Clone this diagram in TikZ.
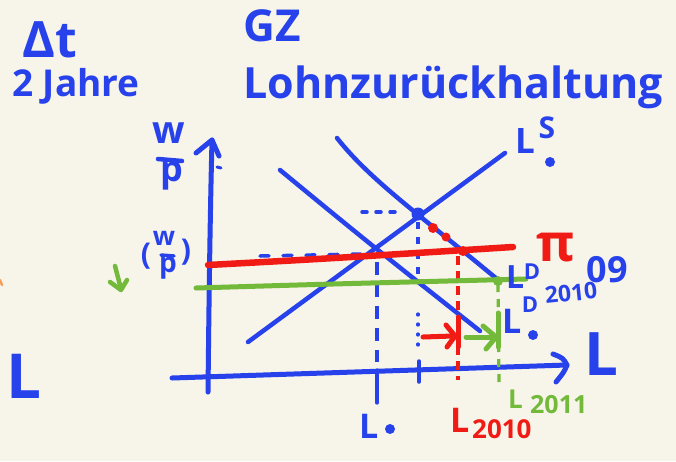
\documentclass[tikz,border=0pt]{standalone}
\usepackage{fontspec}
\setmainfont{Open Sans}
\definecolor{bgc}{HTML}{F7F4EA}
\definecolor{penblue}{HTML}{2742EA}
\definecolor{penred}{HTML}{F01B14}
\definecolor{pengreen}{HTML}{73B93A}
\definecolor{penorange}{HTML}{F5A05A}
\tikzset{
  pen/.style={line width=4.5pt, line cap=round, line join=round},
  hand/.style={font=\bfseries\fontsize{#1}{#1}\selectfont, inner sep=0pt, text=penblue},
  handred/.style={hand=#1, text=penred},
  handgreen/.style={hand=#1, text=pengreen},
}
\begin{document}
\begin{tikzpicture}[x=1pt,y=-1pt]
\fill[bgc] (0,0) rectangle (676,461);
\useasboundingbox (0,0) rectangle (676,461);

% ---- titles ----
\node[hand=50] (dt) at (50,40) {Δt};
\node[hand=37, anchor=base west] (jahre) at (12,96) {2 Jahre};
\node[hand=44, anchor=base west] (gz) at (243,41) {GZ};
\node[hand=43, anchor=base west] (lohn) at (243,98) {Lohnzurückhaltung};
\node[hand=62, anchor=base west] (lleft) at (6,398) {L};

% ---- named coordinates ----
\coordinate (ybot) at (208,392);
\coordinate (ytop) at (212,140);
\coordinate (xl) at (172,378);
\coordinate (xr) at (567,365);
\coordinate (eq) at (418,214);
\coordinate (eq0) at (376,252);
\coordinate (rx) at (463,251);
\coordinate (gx) at (498,281);

% ---- blue dashes on old level ----
\draw[penblue, line width=3.5pt, line cap=round, dash pattern=on 9pt off 14pt] (260,256) -- (362,254);
\draw[penblue, line width=3.5pt, line cap=round, dash pattern=on 5pt off 9pt] (362,212) -- (395,212);

% ---- axes ----
\draw[pen, penblue, line width=5pt] (ybot) .. controls (209,300) and (210,220) .. (ytop);
\draw[pen, penblue, line width=5pt] (196,153) -- (ytop) -- (219,156);
\draw[pen, penblue, line width=3pt] (217,167) -- (221,168);
\draw[pen, penblue, line width=5pt] (xl) -- (xr);
\draw[pen, penblue, line width=5pt] (553,354) .. controls (563,358) .. (xr) .. controls (564,372) .. (556,382);

% ---- curves ----
\draw[pen, penblue] (248,342) -- (505,153);
\draw[pen, penblue] (280,170) .. controls (365,240) .. (480,331);
\draw[pen, penblue] (337,138) .. controls (370,180) and (420,215) .. (497,279);

% ---- verticals ----
\draw[penblue, line width=3.2pt, dash pattern=on 13pt off 9pt] (377,262) -- (377,362);
\draw[pen, penblue, line width=3.2pt] (377,370) -- (377,403);
\draw[penblue, line width=3.2pt, dash pattern=on 7pt off 8pt] (418,222) -- (418,278);
\draw[penblue, line width=3.2pt, line cap=round, dash pattern=on 1pt off 9pt] (418,314) -- (418,352);
\draw[pen, penblue, line width=3.5pt] (419,361) -- (419,382);
\draw[penred, line width=3.2pt, dash pattern=on 9pt off 6pt] (458,256) -- (458,380);
\draw[pengreen, line width=3.2pt, dash pattern=on 8pt off 7pt] (498,284) -- (499,384);

% ---- policy lines ----
\draw[pen, penred, line width=6.5pt] (208,265) .. controls (320,259) .. (513,247);
\draw[pen, pengreen, line width=5pt] (196,288) .. controls (330,284) .. (526,279);

% ---- dots ----
\fill[penblue] (eq) circle (6.5pt);
\fill[penred] (433,228) circle (5pt);
\fill[penred] (446,237) circle (4.5pt);
\fill[penred] (rx) circle (5pt);
\fill[pengreen] (gx) circle (5pt);

% ---- shift arrows ----
\draw[pen, penred, line width=5pt] (423,337) -- (453,336);
\draw[pen, penred, line width=5pt] (446,325) -- (455,336) -- (447,347);
\draw[pen, penred, line width=5pt] (458,317) -- (458,347);
\draw[pen, pengreen, line width=5pt] (466,337) -- (494,337);
\draw[pen, pengreen, line width=5pt] (483,326) -- (496,337) -- (486,349);
\draw[pen, pengreen, line width=5pt] (498,313) -- (498,347);

% ---- green down arrow and stray mark ----
\draw[pen, pengreen, line width=4.5pt] (115,266) -- (121,289);
\draw[pen, pengreen, line width=4.5pt] (110,282) -- (121,290) -- (127,280);
\draw[pen, penorange, line width=2.5pt] (0,280) -- (2,285);

% ---- axis labels ----
\node[hand=38] (wax) at (169,133) {w};
\node[hand=36] (pax) at (172,176) {p};
\draw[pen, penblue] (158,159) -- (182,161);
\node[hand=30] (lpar) at (146,256) {(};
\node[hand=26] (w0) at (164,238) {w};
\draw[pen, penblue, line width=3.5pt] (161,255) -- (174,256);
\node[hand=28] (p0) at (168,268) {p};
\node[hand=30] (rpar) at (186,252) {)};

% ---- curve labels ----
\node[hand=35, anchor=base west] (ls) at (515,153) {L};
\node[hand=30] (lss) at (547,128) {S};
\fill[penblue] (550,162) circle (5pt);
\node[handred=52] (pi) at (556,248) {π};
\node[hand=32, anchor=base west] (ld1) at (506,288) {L};
\node[hand=22] (ld1d) at (532,272) {D};
\node[hand=36] (n09) at (607,270) {09};
\node[hand=23, rotate=6] (n2010) at (571,293) {2010};
\node[hand=34, anchor=base west] (ld0) at (502,333) {L};
\node[hand=22] (ld0d) at (530,305) {D};
\fill[penblue] (533,335) circle (5pt);
\node[hand=60, anchor=base west] (lright) at (584,375) {L};

% ---- bottom labels ----
\node[hand=34, anchor=base west] (l0) at (359,438) {L};
\fill[penblue] (390,429) circle (5pt);
\node[handred=34, anchor=base west] (l2010) at (450,432) {L};
\node[handred=26, anchor=base west] (l2010n) at (472,438) {2010};
\node[handgreen=26, anchor=base west] (l2011) at (508,408) {L};
\node[handgreen=25, anchor=base west] (l2011n) at (530,413) {2011};
\end{tikzpicture}
\end{document}
